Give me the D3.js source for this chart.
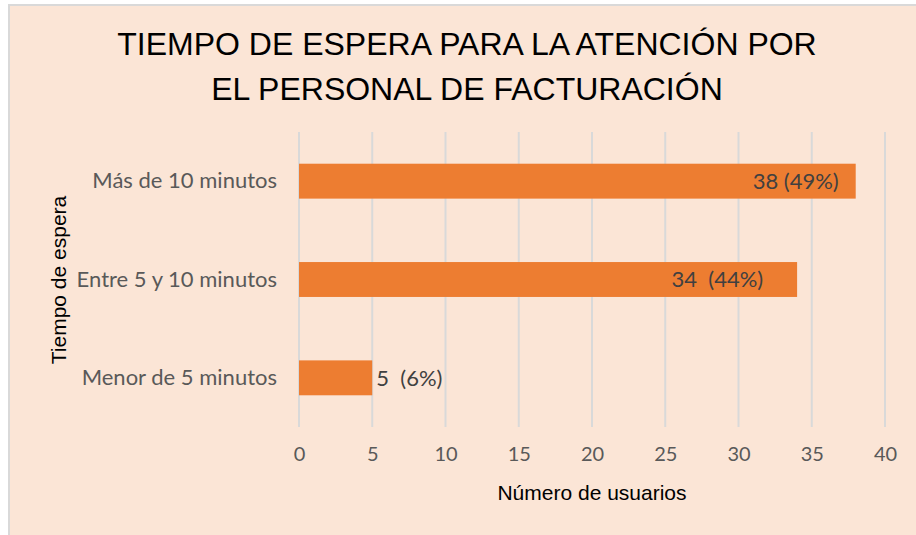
<!DOCTYPE html>
<html>
<head>
<meta charset="utf-8">
<script src="https://cdn.jsdelivr.net/npm/d3@7"></script>
<style>
  body { margin: 0; background: #fff; }
  text { white-space: pre; }
</style>
</head>
<body>
<div id="chart"></div>
<script>
// data
var categories = ["Más de 10 minutos", "Entre 5 y 10 minutos", "Menor de 5 minutos"];
var usuarios = [38, 34, 5];
var etiquetas = ["38 (49%)", "34  (44%)   ", "5  (6%)"];
var xTicks = [0, 5, 10, 15, 20, 25, 30, 35, 40];

var svgWidth = 916;
var svgHeight = 535;

var margin = { top: 132, right: 31, bottom: 108, left: 299 };
var width = svgWidth - margin.left - margin.right;
var height = svgHeight - margin.top - margin.bottom;

var svg = d3.select("#chart")
  .append("svg")
  .attr("width", svgWidth)
  .attr("height", svgHeight);

// chart area background with the grey frame
svg.append("rect")
  .attr("x", 9)
  .attr("y", 5)
  .attr("width", svgWidth)
  .attr("height", svgHeight)
  .attr("fill", "#FBE5D6")
  .attr("stroke", "#D9D9D9")
  .attr("stroke-width", 2);

// title
var title = svg.append("text")
  .attr("text-anchor", "middle")
  .attr("font-family", "Liberation Sans, Arial, sans-serif")
  .attr("font-size", 32)
  .attr("fill", "#000");
title.append("tspan").attr("x", 467).attr("y", 55).text("TIEMPO DE ESPERA PARA LA ATENCIÓN POR");
title.append("tspan").attr("x", 467).attr("y", 100).text("EL PERSONAL DE FACTURACIÓN");

var chartGroup = svg.append("g")
  .attr("transform", `translate(${margin.left}, ${margin.top})`);

var x = d3.scaleLinear()
  .domain([0, 40])
  .range([0, width]);

var y = d3.scaleBand()
  .domain(categories)
  .range([0, height])
  .paddingInner(0.645)
  .paddingOuter(0.3225);

// vertical gridlines
chartGroup.selectAll(".grid")
  .data(xTicks)
  .enter()
  .append("line")
  .attr("x1", d => x(d))
  .attr("x2", d => x(d))
  .attr("y1", 0)
  .attr("y2", height)
  .attr("stroke", "#D9D9D9")
  .attr("stroke-width", 2);

// bars
chartGroup.selectAll(".bar")
  .data(usuarios)
  .enter()
  .append("rect")
  .attr("x", x(0))
  .attr("y", (d, i) => y(categories[i]))
  .attr("width", d => x(d) - x(0))
  .attr("height", y.bandwidth())
  .attr("fill", "#ED7D31");

// data labels: inside end when the bar is long, outside otherwise
chartGroup.selectAll(".lbl")
  .data(usuarios)
  .enter()
  .append("text")
  .attr("x", d => d > 10 ? x(d) - 17 : x(d) + 4)
  .attr("y", (d, i) => y(categories[i]) + y.bandwidth() / 2)
  .attr("dy", "0.35em")
  .attr("text-anchor", d => d > 10 ? "end" : "start")
  .attr("font-family", "Lato, 'Noto Sans', sans-serif")
  .attr("font-size", 22)
  .attr("fill", "#404040")
  .text((d, i) => etiquetas[i]);

// x axis
var bottomAxis = d3.axisBottom(x).tickValues(xTicks).tickSize(0).tickPadding(0);
var xAxis = chartGroup.append("g")
  .attr("transform", `translate(0, ${height})`)
  .call(bottomAxis);
xAxis.select(".domain").remove();
xAxis.selectAll("text")
  .attr("y", 27)
  .attr("dy", "0.35em")
  .attr("font-family", "Lato, 'Noto Sans', sans-serif")
  .attr("font-size", 20)
  .attr("fill", "#595959");

// y axis
var leftAxis = d3.axisLeft(y).tickSize(0).tickPadding(22);
var yAxis = chartGroup.append("g").call(leftAxis);
yAxis.select(".domain").remove();
yAxis.selectAll("text")
  .attr("font-family", "Lato, 'Noto Sans', sans-serif")
  .attr("font-size", 22)
  .attr("fill", "#595959");

// axis titles
svg.append("text")
  .attr("x", margin.left + width / 2)
  .attr("y", 500)
  .attr("text-anchor", "middle")
  .attr("font-family", "Liberation Sans, Arial, sans-serif")
  .attr("font-size", 21)
  .attr("fill", "#000")
  .text("Número de usuarios");

svg.append("text")
  .attr("transform", "rotate(-90)")
  .attr("x", -280)
  .attr("y", 66)
  .attr("text-anchor", "middle")
  .attr("font-family", "Liberation Sans, Arial, sans-serif")
  .attr("font-size", 21)
  .attr("fill", "#000")
  .text("Tiempo de espera");
</script>
</body>
</html>
